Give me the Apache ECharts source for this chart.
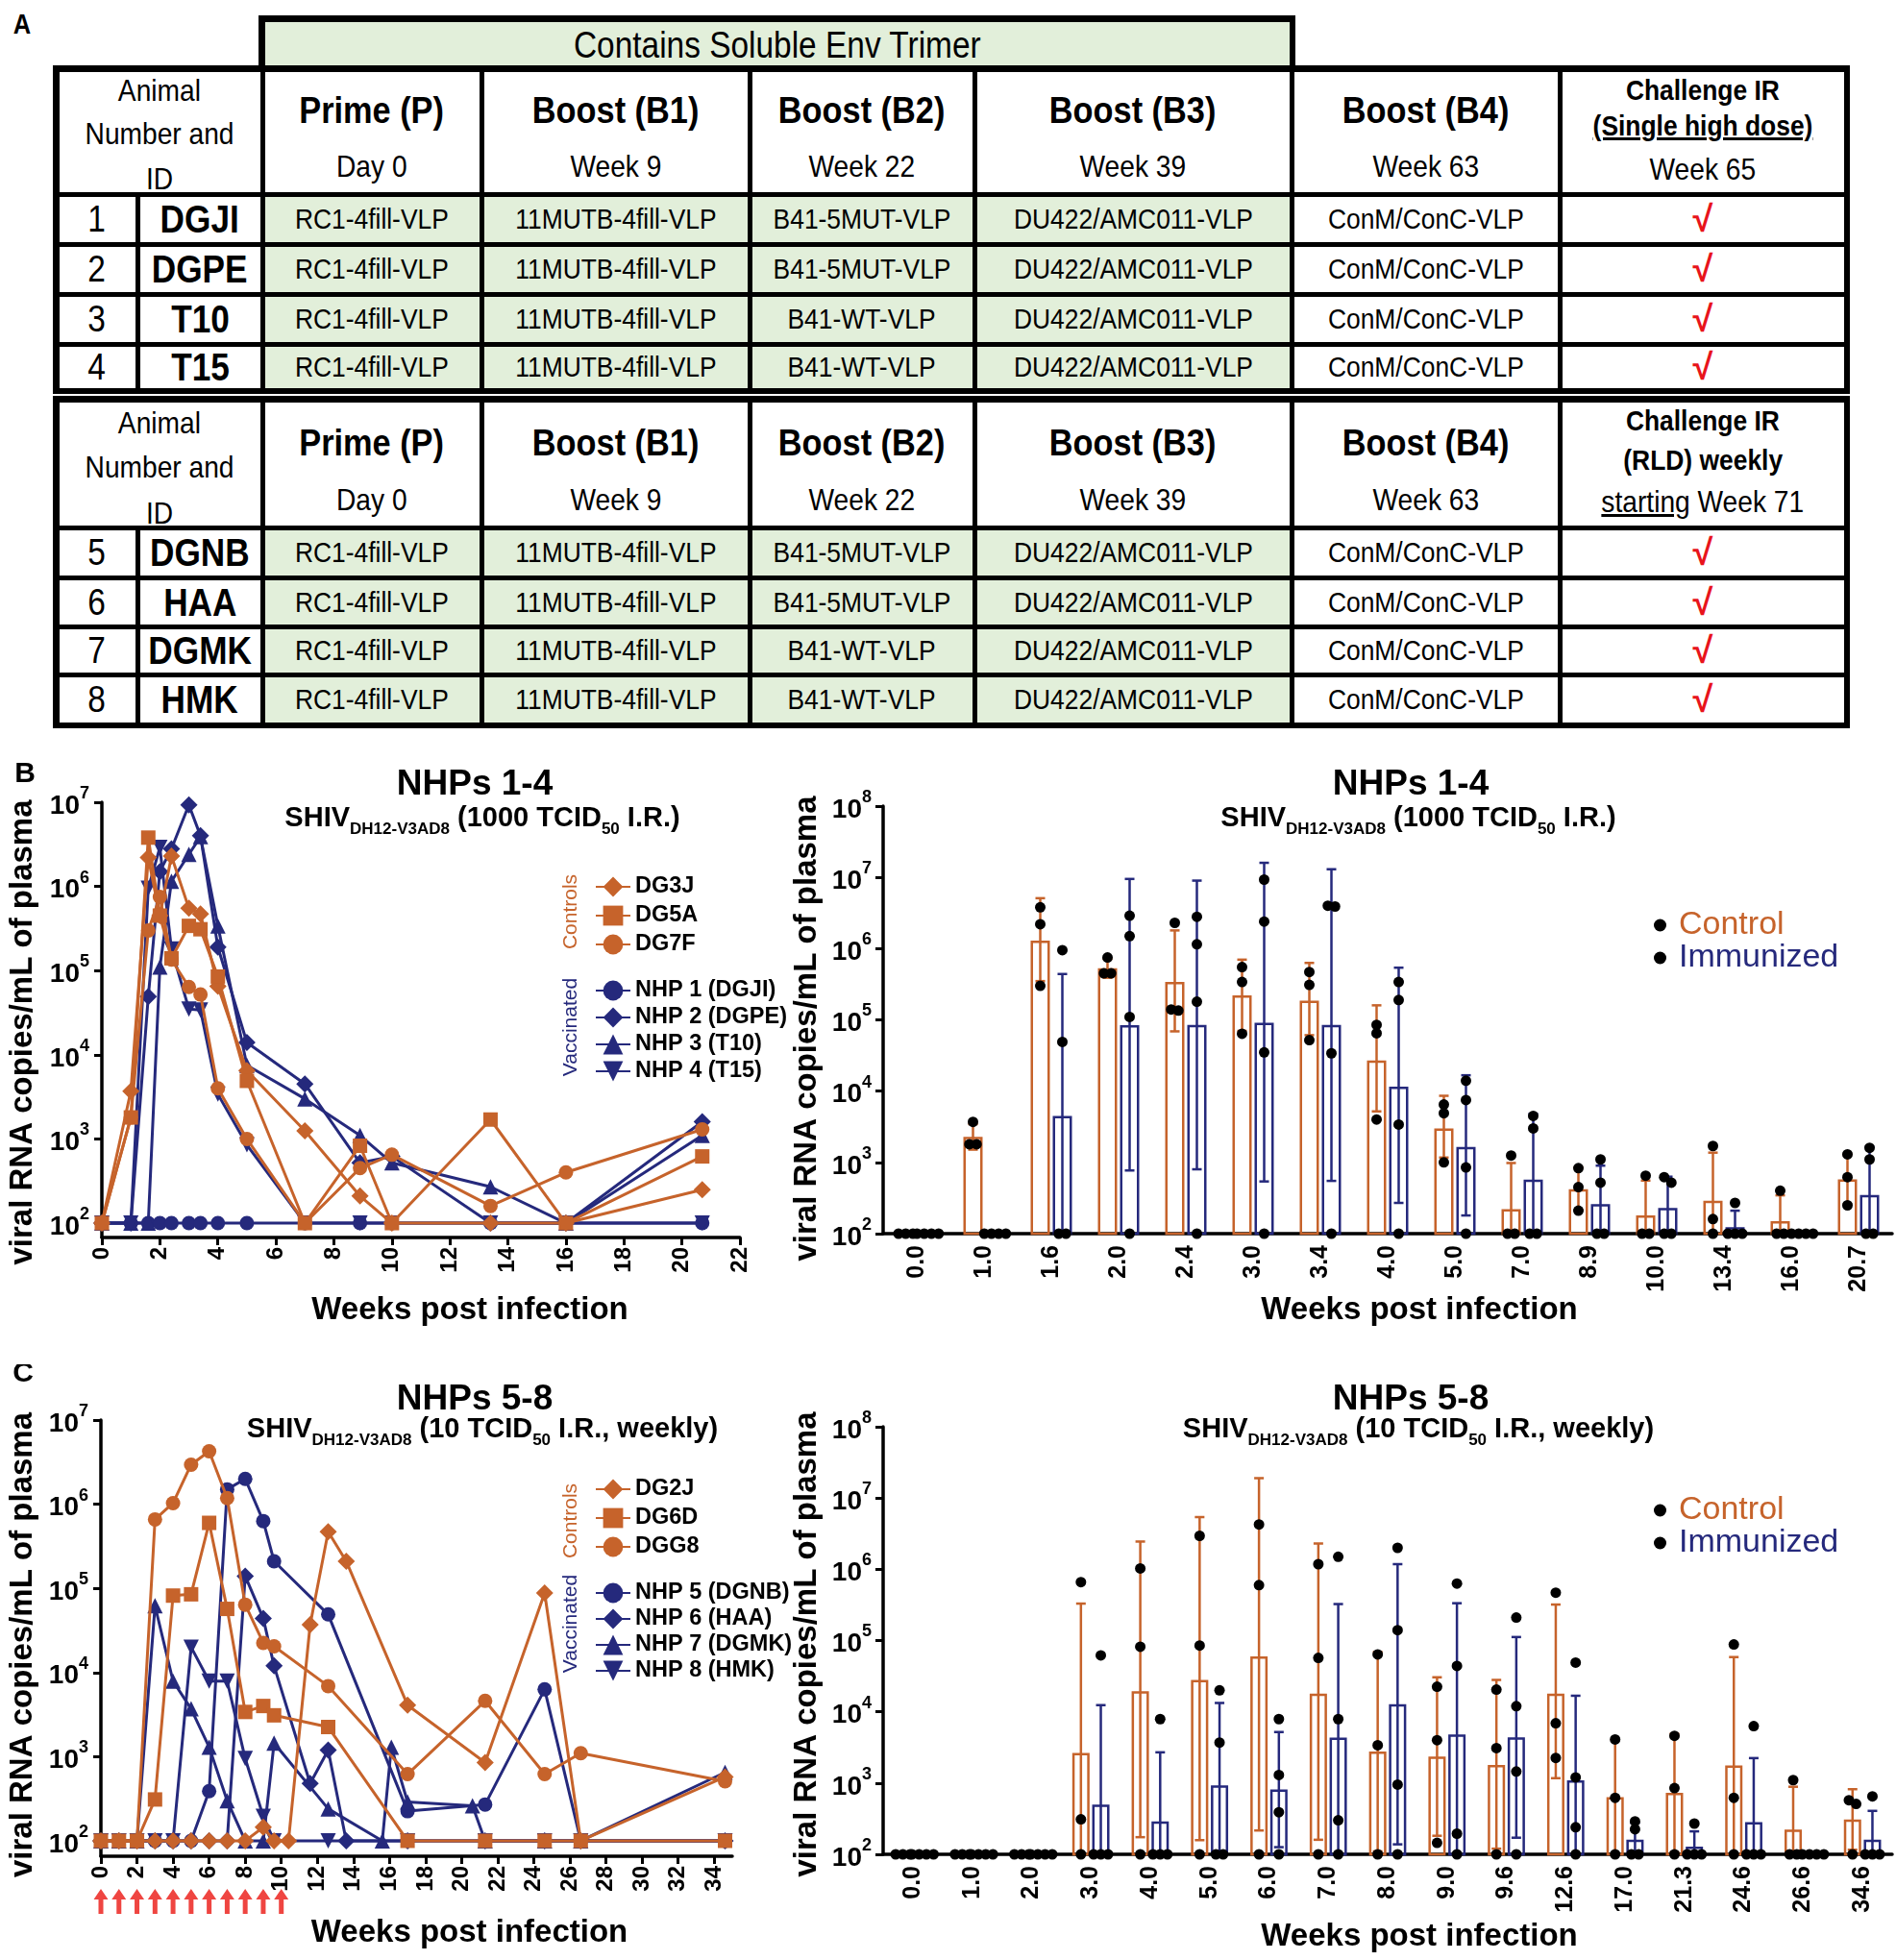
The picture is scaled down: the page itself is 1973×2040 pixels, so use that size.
<!DOCTYPE html>
<html>
<head>
<meta charset="utf-8">
<script src="https://cdn.jsdelivr.net/npm/echarts@6.0.0/dist/echarts.min.js"></script>
<style>
html,body{margin:0;padding:0;background:#fff;}
body{width:1973px;height:2040px;position:relative;overflow:hidden;}
.blk{position:absolute;background:#000;}
.cell{position:absolute;overflow:hidden;display:flex;align-items:center;justify-content:center;color:#000;line-height:1;white-space:nowrap;}
.t{display:inline-block;transform:scaleX(0.88);transform-origin:50% 50%;font-family:'Liberation Sans',Arial,sans-serif;line-height:1;white-space:nowrap;}
.hl{position:absolute;left:0;right:0;text-align:center;transform:translateY(-50%);line-height:1;white-space:nowrap;}
.ch{position:absolute;}
#lblA{position:absolute;left:12px;top:8px;font-weight:bold;font-size:30px;font-family:'Liberation Sans',sans-serif;transform:scaleX(0.85);}
</style>
</head>
<body>
<div id="lblA">A</div>
<div id="bR" class="ch" style="left:820px;top:780px;width:1153px;height:620px"></div>
<div id="cR" class="ch" style="left:820px;top:1420px;width:1153px;height:620px"></div>
<div id="bL" class="ch" style="left:0;top:780px;width:860px;height:620px"></div>
<div id="cL" class="ch" style="left:0;top:1420px;width:860px;height:620px"></div>
<script>
// ================= DATA =================
// ---- Panel A (table) ----
const trimerLabel = 'Contains Soluble Env Trimer';
const animalHead = ['Animal', 'Number and', 'ID'];
const headTitles = ['Prime (P)', 'Boost (B1)', 'Boost (B2)', 'Boost (B3)', 'Boost (B4)'];
const headTimes = ['Day 0', 'Week 9', 'Week 22', 'Week 39', 'Week 63'];
const challengeHead1 = ['Challenge IR', '(Single high dose)', 'Week 65'];
const challengeHead2 = ['Challenge IR', '(RLD) weekly', 'starting', 'Week 71'];
const animalNum = [1, 2, 3, 4, 5, 6, 7, 8];
const animalId = ['DGJI', 'DGPE', 'T10', 'T15', 'DGNB', 'HAA', 'DGMK', 'HMK'];
const primeVLP = ['RC1-4fill-VLP', 'RC1-4fill-VLP', 'RC1-4fill-VLP', 'RC1-4fill-VLP', 'RC1-4fill-VLP', 'RC1-4fill-VLP', 'RC1-4fill-VLP', 'RC1-4fill-VLP'];
const boost1VLP = ['11MUTB-4fill-VLP', '11MUTB-4fill-VLP', '11MUTB-4fill-VLP', '11MUTB-4fill-VLP', '11MUTB-4fill-VLP', '11MUTB-4fill-VLP', '11MUTB-4fill-VLP', '11MUTB-4fill-VLP'];
const boost2VLP = ['B41-5MUT-VLP', 'B41-5MUT-VLP', 'B41-WT-VLP', 'B41-WT-VLP', 'B41-5MUT-VLP', 'B41-5MUT-VLP', 'B41-WT-VLP', 'B41-WT-VLP'];
const boost3VLP = ['DU422/AMC011-VLP', 'DU422/AMC011-VLP', 'DU422/AMC011-VLP', 'DU422/AMC011-VLP', 'DU422/AMC011-VLP', 'DU422/AMC011-VLP', 'DU422/AMC011-VLP', 'DU422/AMC011-VLP'];
const boost4VLP = ['ConM/ConC-VLP', 'ConM/ConC-VLP', 'ConM/ConC-VLP', 'ConM/ConC-VLP', 'ConM/ConC-VLP', 'ConM/ConC-VLP', 'ConM/ConC-VLP', 'ConM/ConC-VLP'];
const challenged = [true, true, true, true, true, true, true, true];

// ---- Panel B (NHPs 1-4), weeks post infection ----
const weeksB = [0, 1, 1.6, 2, 2.4, 3, 3.4, 4, 5, 7, 8.9, 10, 13.4, 16, 20.7];
const DG3J = [100, 3700, 2200000, 450000, 2300000, 550000, 470000, 65000, 6500, 1250, 210, 100, 100, 100, 250];
const DG5A = [100, 1800, 3800000, 450000, 140000, 340000, 310000, 85000, 4900, 100, 830, 100, 1700, 100, 620];
const DG7F = [100, 1800, 300000, 750000, 135000, 64000, 52000, 4000, 1000, 100, 450, 650, 160, 400, 1300];
const NHP1 = [100, 100, 100, 100, 100, 100, 100, 100, 100, 100, 100, 100, 100, 100, 100];
const NHP2 = [100, 100, 49000, 1500000, 2800000, 9300000, 4000000, 190000, 14000, 4500, 520, 620, 100, 100, 1600];
const NHP3 = [100, 100, 100, 110000, 1150000, 2400000, 3900000, 340000, 7500, 3000, 1100, 520, 270, 100, 1100];
const NHP4 = [100, 100, 950000, 2900000, 180000, 35000, 34000, 3400, 850, 100, 100, 100, 100, 100, 100];
const catsB = ['0.0', '1.0', '1.6', '2.0', '2.4', '3.0', '3.4', '4.0', '5.0', '7.0', '8.9', '10.0', '13.4', '16.0', '20.7'];
const ctrlMeanB = [100, 2290, 1300000, 530000, 340000, 220000, 186000, 27000, 3000, 220, 420, 180, 290, 150, 580];
const ctrlHiB = [100, 3450, 5100000, 720000, 1800000, 700000, 630000, 160000, 8600, 980, 850, 555, 1370, 345, 1300];
const ctrlLoB = [null, 1510, 350000, 390000, 69000, 70000, 61000, 5200, 1170, null, 215, null, null, null, 256];
const immMeanB = [100, 100, 4500, 84000, 85000, 91000, 85000, 11600, 1650, 575, 260, 230, 123, 100, 350];
const immHiB = [100, 100, 440000, 9500000, 9000000, 16000000, 13000000, 540000, 16700, 4800, 900, 630, 210, 100, 1650];
const immLoB = [null, null, null, 770, 800, 540, 550, 270, 180, null, null, null, null, null, null];

// ---- Panel C (NHPs 5-8), [week, copies/mL] ----
const DG2J = [[0,100],[1,100],[2,100],[3,100],[4,100],[5,100],[6,100],[7,100],[8,100],[9,145],[9.6,100],[10.4,100],[11.6,37000],[12.6,470000],[13.6,210000],[17,4100],[21.3,850],[24.6,88000],[26.6,100],[34.6,575]];
const DG6D = [[0,100],[1,100],[2,100],[3,310],[4,82000],[5,85000],[6,600000],[7,57000],[8,3400],[9,4000],[9.6,3100],[12.6,2250],[17,100],[21.3,100],[24.6,100],[26.6,100],[34.6,100]];
const DGG8 = [[0,100],[1,100],[2,100],[3,660000],[4,1030000],[5,2950000],[6,4250000],[7,1180000],[8,64000],[9,22500],[9.6,20500],[12.6,6900],[17,620],[21.3,4600],[24.6,620],[26.6,1100],[34.6,510]];
const NHP5 = [[0,100],[1,100],[2,100],[3,100],[4,100],[5,100],[6,390],[7,1500000],[8,2000000],[9,630000],[9.6,210000],[12.6,49000],[17,225],[21.3,270],[24.6,6300],[26.6,100],[34.6,100]];
const NHP6 = [[0,100],[1,100],[2,100],[3,100],[4,100],[5,100],[6,100],[7,100],[8,140000],[9,44000],[9.6,12000],[11.6,480],[12.6,1200],[13.6,100],[17,100],[21.3,100],[24.6,100],[26.6,100],[34.6,100]];
const NHP7 = [[0,100],[1,100],[2,100],[3,62000],[4,7900],[5,3700],[6,1300],[7,300],[8,100],[9,100],[9.6,1450],[12.6,240],[15.6,100],[16.1,1300],[17,290],[20.6,260],[21.3,100],[24.6,100],[26.6,100],[34.6,650]];
const NHP8 = [[0,100],[1,100],[2,100],[3,100],[4,100],[5,20000],[6,7900],[7,7900],[8,950],[9,195],[9.6,100],[12.6,100],[17,100],[21.3,100],[24.6,100],[26.6,100],[34.6,100]];
const challengeWeeks = [0, 1, 2, 3, 4, 5, 6, 7, 8, 9, 10];
const catsC = ['0.0', '1.0', '2.0', '3.0', '4.0', '5.0', '6.0', '7.0', '8.0', '9.0', '9.6', '12.6', '17.0', '21.3', '24.6', '26.6', '34.6'];
const weeksC = [0, 1, 2, 3, 4, 5, 6, 7, 8, 9, 9.6, 12.6, 17, 21.3, 24.6, 26.6, 34.6];
const ctrlMeanC = [100, 100, 100, 2650, 19500, 28000, 60000, 18000, 2770, 2350, 1800, 18000, 634, 730, 1760, 222, 308];
const ctrlHiC = [100, 100, 100, 330000, 2450000, 5400000, 19000000, 2300000, 69000, 30500, 28000, 320000, 4060, 4900, 58600, 887, 820];
const ctrlLoC = [null, null, null, null, 174, 158, 216, 160, 110, 182, 120, 1170, null, 107, null, null, 116];
const immMeanC = [100, 100, 100, 499, 290, 927, 811, 4340, 12800, 4820, 4370, 1090, 160, 128, 282, 100, 160];
const immHiC = [100, 100, 100, 12400, 2700, 13300, 5200, 325000, 1180000, 334000, 112000, 16800, 277, 210, 2240, 100, 407];
const immLoC = [null, null, null, null, null, null, 126, null, 138, null, 171, null, null, null, null, null, null];

// ---- tick labels ----
const yTicksLine = [1e2, 1e3, 1e4, 1e5, 1e6, 1e7];
const yTicksBar = [1e2, 1e3, 1e4, 1e5, 1e6, 1e7, 1e8];
const xTicksB = [0, 2, 4, 6, 8, 10, 12, 14, 16, 18, 20, 22];
const xTicksC = [0, 2, 4, 6, 8, 10, 12, 14, 16, 18, 20, 22, 24, 26, 28, 30, 32, 34];

// ================= STYLE =================
const ORANGE = '#C6632B';
const BLUE = '#25297C';
const GREEN = '#E2EFDA';
const FONT = "'Liberation Sans', Arial, Helvetica, sans-serif";

// ================= TABLE =================
function box(x, y, w, h, bg, html, cls) {
  const d = document.createElement('div');
  d.className = cls || 'cell';
  d.style.left = x + 'px'; d.style.top = y + 'px';
  d.style.width = w + 'px'; d.style.height = h + 'px';
  d.style.background = bg;
  if (html) d.innerHTML = html;
  document.body.appendChild(d);
  return d;
}
const G = 2.5;
function cell(x0, x1, y0, y1, bg, html) { return box(x0 + G, y0 + G, x1 - x0 - 2 * G, y1 - y0 - 2 * G, bg, html); }
function tx(html, css) { return '<span class="t" style="' + css + '">' + html + '</span>'; }
function hl(off, html, css) { return '<div class="hl" style="top:' + (off - G) + 'px">' + tx(html, css) + '</div>'; }
const COLS = [59, 143, 273, 501, 780, 1014, 1344, 1623, 1921];
const TABLES = [
  {top: 72, head: 202, rows: [254, 306, 358, 406], animals: [0, 1, 2, 3], v: 1},
  {top: 416, head: 549, rows: [601, 652, 702, 754], animals: [4, 5, 6, 7], v: 2}
];
box(COLS[2] - 4, 16, COLS[6] - COLS[2] + 8, 60, '#000', '', 'blk');
cell(COLS[2], COLS[6], 20, 74, GREEN, tx(trimerLabel, 'font-size:38px'));
const vlpCols = [primeVLP, boost1VLP, boost2VLP, boost3VLP, boost4VLP];
TABLES.forEach(T => {
  const bottom = T.rows[T.rows.length - 1];
  box(COLS[0] - 4, T.top - 4, COLS[8] - COLS[0] + 8, bottom - T.top + 8, '#000', '', 'blk');
  const aOff = T.v === 1 ? [22, 67, 114] : [24, 70, 118];
  const tOff = T.v === 1 ? [42, 101] : [44, 104];
  const cOff = T.v === 1 ? [22, 59, 104] : [22, 63, 106];
  cell(COLS[0], COLS[2], T.top, T.head, '#fff',
    hl(aOff[0], animalHead[0], 'font-size:32px') + hl(aOff[1], animalHead[1], 'font-size:32px') + hl(aOff[2], animalHead[2], 'font-size:32px'));
  for (let c = 0; c < 5; c++) {
    cell(COLS[c + 2], COLS[c + 3], T.top, T.head, '#fff',
      hl(tOff[0], headTitles[c], 'font-size:39px;font-weight:bold') + hl(tOff[1], headTimes[c], 'font-size:32px'));
  }
  let chHtml;
  if (T.v === 1) {
    chHtml = hl(cOff[0], challengeHead1[0], 'font-size:30px;font-weight:bold') +
             hl(cOff[1], '<u>' + challengeHead1[1] + '</u>', 'font-size:30px;font-weight:bold') +
             hl(cOff[2], challengeHead1[2], 'font-size:32px');
  } else {
    chHtml = hl(cOff[0], challengeHead2[0], 'font-size:30px;font-weight:bold') +
             hl(cOff[1], challengeHead2[1], 'font-size:30px;font-weight:bold') +
             hl(cOff[2], '<u>' + challengeHead2[2] + '</u> ' + challengeHead2[3], 'font-size:32px');
  }
  cell(COLS[7], COLS[8], T.top, T.head, '#fff', chHtml);
  T.animals.forEach((a, r) => {
    const y0 = r === 0 ? T.head : T.rows[r - 1];
    const y1 = T.rows[r];
    cell(COLS[0], COLS[1], y0, y1, '#fff', tx(animalNum[a], 'font-size:38px'));
    cell(COLS[1], COLS[2], y0, y1, '#fff', tx(animalId[a], 'font-size:40px;font-weight:bold'));
    for (let c = 0; c < 5; c++) {
      cell(COLS[c + 2], COLS[c + 3], y0, y1, c < 4 ? GREEN : '#fff', tx(vlpCols[c][a], 'font-size:30px'));
    }
    cell(COLS[7], COLS[8], y0, y1, '#fff', challenged[a] ? '<span style="font-size:38px;font-weight:bold;color:#E8141B;font-family:\'Liberation Sans\',sans-serif">\u221A</span>' : '');
  });
});

// ================= CHARTS =================
const pow10 = v => '{b|10}{p|' + Math.round(Math.log10(v)) + '}';
const POW_RICH = {
  b: {fontSize: 28, fontWeight: 'bold', fontFamily: FONT, color: '#000', lineHeight: 36, verticalAlign: 'bottom'},
  p: {fontSize: 18, fontWeight: 'bold', fontFamily: FONT, color: '#000', lineHeight: 18, verticalAlign: 'top'}
};
const NAME_STYLE = {fontSize: 33, fontWeight: 'bold', color: '#000', fontFamily: FONT};
const SUB_RICH = {
  m: {fontSize: 29, fontWeight: 'bold', fontFamily: FONT, fill: '#000', lineHeight: 29, verticalAlign: 'bottom', padding: [0, 0, 5, 0]},
  s: {fontSize: 17, fontWeight: 'bold', fontFamily: FONT, fill: '#000', lineHeight: 17, verticalAlign: 'bottom'}
};
function titleGraphics(P) {
  return [
    {type: 'text', x: P.titleX, y: P.titleY, silent: true, style: {text: P.title, fontSize: 37, fontWeight: 'bold', fontFamily: FONT, fill: '#000', align: 'center', verticalAlign: 'middle'}},
    {type: 'text', x: P.subX, y: P.subY, silent: true, style: {text: P.sub, rich: SUB_RICH, align: 'center', verticalAlign: 'middle'}}
  ];
}

const CTRL_STYLE = [{symbol: 'diamond', size: 18, rot: 0}, {symbol: 'rect', size: 15, rot: 0}, {symbol: 'circle', size: 15, rot: 0}];
const VACC_STYLE = [{symbol: 'circle', size: 15, rot: 0}, {symbol: 'diamond', size: 18, rot: 0}, {symbol: 'triangle', size: 16, rot: 0}, {symbol: 'triangle', size: 16, rot: 180}];

function lineChart(elId, P) {
  const chart = echarts.init(document.getElementById(elId));
  const mk = (s, sty, color, z) => ({
    type: 'line', name: s.name, data: s.data, symbol: sty.symbol, symbolSize: sty.size, symbolRotate: sty.rot,
    lineStyle: {color: color, width: 3}, itemStyle: {color: color}, z: z, clip: false, silent: true,
    emphasis: {disabled: true}
  });
  const series = [].concat(
    P.vacc.map((s, k) => mk(s, VACC_STYLE[k], BLUE, 2)),
    P.ctrl.map((s, k) => mk(s, CTRL_STYLE[k], ORANGE, 3))
  );
  if (P.arrows) {
    series.push({
      type: 'custom', name: 'challenge', silent: true, clip: false, z: 5,
      data: P.arrows.map(w => [w, 1000]),
      renderItem: (params, api) => {
        const p = api.coord([api.value(0), P.yMin]);
        const x = p[0], top = p[1] + 34, bot = p[1] + 60, hw = 7.5, hh = 11, sw = 2.5;
        return {type: 'polygon', shape: {points: [[x, top], [x + hw, top + hh], [x + sw, top + hh], [x + sw, bot], [x - sw, bot], [x - sw, top + hh], [x - hw, top + hh]]}, style: {fill: '#EF4541'}};
      }
    });
  }
  const legBase = {orient: 'vertical', left: P.legLeft, itemWidth: 36, itemHeight: 26, selectedMode: false,
    textStyle: {fontSize: 23.5, fontWeight: 'bold', color: '#000', fontFamily: FONT, lineHeight: 26}};
  const graphic = titleGraphics(P).concat([
    {type: 'text', x: P.letterX, y: P.letterY, silent: true, style: {text: P.letter, fontSize: 30, fontWeight: 'bold', fontFamily: FONT, fill: '#000', align: 'center', verticalAlign: 'middle'}},
    {type: 'text', x: P.grpX, y: P.ctrlLblY, rotation: Math.PI / 2, silent: true, style: {text: 'Controls', fontSize: 21, fontFamily: FONT, fill: ORANGE, align: 'center', verticalAlign: 'middle'}},
    {type: 'text', x: P.grpX, y: P.vaccLblY, rotation: Math.PI / 2, silent: true, style: {text: 'Vaccinated', fontSize: 21, fontFamily: FONT, fill: BLUE, align: 'center', verticalAlign: 'middle'}}
  ]);
  chart.setOption({
    animation: false,
    textStyle: {fontFamily: FONT},
    grid: {left: P.grid[0], top: P.grid[1], width: P.grid[2], height: P.grid[3], containLabel: false, outerBoundsMode: 'none'},
    xAxis: {
      type: 'value', min: 0, max: P.xMax,
      axisLine: {show: true, onZero: false, lineStyle: {color: '#000', width: 3.5}},
      axisTick: {show: true, length: 8, lineStyle: {color: '#000', width: 3}, customValues: P.xTicks},
      axisLabel: {customValues: P.xTicks, rotate: 90, margin: 10, fontSize: 24, fontWeight: 'bold', color: '#000', fontFamily: FONT},
      splitLine: {show: false},
      name: 'Weeks post infection', nameLocation: 'middle', nameGap: P.xNameGap,
      nameTextStyle: Object.assign({}, NAME_STYLE, {padding: [0, 0, 0, P.xNameShift]}), nameMoveOverlap: false
    },
    yAxis: {
      type: 'log', logBase: 10, min: P.yMin, max: 1e7,
      axisLine: {show: true, onZero: false, lineStyle: {color: '#000', width: 3.5}},
      axisTick: {show: true, length: 8, lineStyle: {color: '#000', width: 3}, customValues: yTicksLine},
      minorTick: {show: false},
      axisLabel: {customValues: yTicksLine, formatter: pow10, rich: POW_RICH, margin: 13},
      splitLine: {show: false},
      name: 'viral RNA copies/mL of plasma', nameLocation: 'middle', nameGap: P.yNameGap,
      nameTextStyle: Object.assign({}, NAME_STYLE, {padding: [0, P.yNameShift, 0, 0]}), nameMoveOverlap: false
    },
    legend: [
      Object.assign({}, legBase, {data: P.ctrl.map(s => s.name), top: P.legCtrlTop, itemGap: P.ctrlGap}),
      Object.assign({}, legBase, {data: P.vacc.map(s => s.name), top: P.legVaccTop, itemGap: P.vaccGap})
    ],
    graphic: graphic,
    series: series
  });
}

const CAP = 5, DOT_R = 5.5, DOT_SPREAD = 7.5;
function errSeries(name, offset, color, mean, hi, lo) {
  return {
    type: 'custom', name: name, z: 3, clip: false, silent: true,
    data: mean.map((m, i) => [i, m]),
    renderItem: (params, api) => {
      const i = params.dataIndex;
      if (!(hi[i] > mean[i] * 1.02)) return {type: 'group', children: []};
      const x = api.coord([i, mean[i]])[0] + offset;
      const yH = api.coord([i, hi[i]])[1];
      const yL = api.coord([i, lo[i] != null ? lo[i] : 100])[1];
      const st = {stroke: color, lineWidth: 2.5};
      const ch = [
        {type: 'line', shape: {x1: x, y1: yL, x2: x, y2: yH}, style: st},
        {type: 'line', shape: {x1: x - CAP, y1: yH, x2: x + CAP, y2: yH}, style: st}
      ];
      if (lo[i] != null) ch.push({type: 'line', shape: {x1: x - CAP, y1: yL, x2: x + CAP, y2: yL}, style: st});
      return {type: 'group', children: ch};
    }
  };
}
function dotSeries(name, offset, groups) {
  return {
    type: 'custom', name: name, z: 4, clip: false, silent: true,
    data: groups.map((g, i) => [i, 1000]),
    renderItem: (params, api) => {
      const i = params.dataIndex;
      const cx = api.coord([i, 1000])[0] + offset;
      const ys = groups[i].map(v => api.coord([i, v])[1]).sort((a, b) => a - b);
      const children = [];
      let k = 0;
      while (k < ys.length) {
        let j = k;
        while (j + 1 < ys.length && ys[j + 1] - ys[k] < 8) j++;
        const n = j - k + 1;
        for (let t = 0; t < n; t++) {
          children.push({type: 'circle', shape: {cx: cx + (t - (n - 1) / 2) * DOT_SPREAD, cy: ys[k + t], r: DOT_R}, style: {fill: '#000'}});
        }
        k = j + 1;
      }
      return {type: 'group', children: children};
    }
  };
}
function barChart(elId, P) {
  const chart = echarts.init(document.getElementById(elId));
  const bw = P.barWidth, gap = 0.15;
  const off = (bw + bw * gap) / 2;
  chart.setOption({
    animation: false,
    textStyle: {fontFamily: FONT},
    grid: {left: P.grid[0], top: P.grid[1], width: P.grid[2], height: P.grid[3], containLabel: false, outerBoundsMode: 'none'},
    xAxis: {
      type: 'category', data: P.cats,
      axisLine: {show: true, onZero: false, lineStyle: {color: '#000', width: 3.5}},
      axisTick: {show: false},
      axisLabel: {rotate: 90, interval: 0, margin: 12, fontSize: 25, fontWeight: 'bold', color: '#000', fontFamily: FONT},
      name: 'Weeks post infection', nameLocation: 'middle', nameGap: P.xNameGap,
      nameTextStyle: Object.assign({}, NAME_STYLE, {padding: [0, 0, 0, P.xNameShift]}), nameMoveOverlap: false
    },
    yAxis: {
      type: 'log', logBase: 10, min: 100, max: 1e8,
      axisLine: {show: true, onZero: false, lineStyle: {color: '#000', width: 3.5}},
      axisTick: {show: true, length: 8, lineStyle: {color: '#000', width: 3}, customValues: yTicksBar},
      minorTick: {show: false},
      axisLabel: {customValues: yTicksBar, formatter: pow10, rich: POW_RICH, margin: 12},
      splitLine: {show: false},
      name: 'viral RNA copies/mL of plasma', nameLocation: 'middle', nameGap: P.yNameGap,
      nameTextStyle: Object.assign({}, NAME_STYLE, {padding: [0, P.yNameShift, 0, 0]}), nameMoveOverlap: false
    },
    legend: {
      data: [
        {name: 'Control', icon: 'circle', itemStyle: {color: '#000', borderWidth: 0}, textStyle: {color: ORANGE}},
        {name: 'Immunized', icon: 'circle', itemStyle: {color: '#000', borderWidth: 0}, textStyle: {color: BLUE}}
      ],
      orient: 'vertical', left: P.legLeft, top: P.legTop, itemWidth: 13, itemHeight: 13, itemGap: 0, selectedMode: false,
      textStyle: {fontSize: 34, fontFamily: FONT, lineHeight: 34, padding: [0, 0, 0, 8]}
    },
    graphic: titleGraphics(P),
    series: [
      {type: 'bar', name: 'Control', data: P.ctrlMean, barWidth: bw, barGap: (gap * 100) + '%', clip: true, silent: true,
        itemStyle: {color: 'rgba(255,255,255,0)', borderColor: ORANGE, borderWidth: 2.5}, z: 2},
      {type: 'bar', name: 'Immunized', data: P.immMean, barWidth: bw, barGap: (gap * 100) + '%', clip: true, silent: true,
        itemStyle: {color: 'rgba(255,255,255,0)', borderColor: BLUE, borderWidth: 2.5}, z: 2},
      errSeries('Control SD', -off, ORANGE, P.ctrlMean, P.ctrlHi, P.ctrlLo),
      errSeries('Immunized SD', off, BLUE, P.immMean, P.immHi, P.immLo),
      dotSeries('Control pts', -off, P.ctrlDots),
      dotSeries('Immunized pts', off, P.immDots)
    ]
  });
}

// ---- Panel B ----
const pairB = arr => weeksB.map((w, i) => [w, arr[i]]);
lineChart('bL', {
  ctrl: [{name: 'DG3J', data: pairB(DG3J)}, {name: 'DG5A', data: pairB(DG5A)}, {name: 'DG7F', data: pairB(DG7F)}],
  vacc: [{name: 'NHP 1 (DGJI)', data: pairB(NHP1)}, {name: 'NHP 2 (DGPE)', data: pairB(NHP2)}, {name: 'NHP 3 (T10)', data: pairB(NHP3)}, {name: 'NHP 4 (T15)', data: pairB(NHP4)}],
  grid: [106, 55, 664, 453], xMax: 22, xTicks: xTicksB, yMin: 67.5, xNameGap: 59, yNameGap: 66, xNameShift: 102, yNameShift: 26,
  title: 'NHPs 1-4', titleX: 494, titleY: 37, sub: '{m|SHIV}{s|DH12-V3AD8}{m| (1000 TCID}{s|50}{m| I.R.)}', subX: 502, subY: 77,
  letter: 'B', letterX: 26, letterY: 26,
  legLeft: 614, legCtrlTop: 125, ctrlGap: 4, legVaccTop: 233, vaccGap: 2,
  grpX: 594, ctrlLblY: 169, vaccLblY: 289
});
barChart('bR', {
  cats: catsB, ctrlMean: ctrlMeanB, ctrlHi: ctrlHiB, ctrlLo: ctrlLoB, immMean: immMeanB, immHi: immHiB, immLo: immLoB,
  ctrlDots: catsB.map((c, i) => [DG3J[i], DG5A[i], DG7F[i]]),
  immDots: catsB.map((c, i) => [NHP1[i], NHP2[i], NHP3[i], NHP4[i]]),
  grid: [99, 59, 1050, 445], barWidth: 20, xNameGap: 63, yNameGap: 63, xNameShift: 66, yNameShift: 18,
  title: 'NHPs 1-4', titleX: 648, titleY: 37, sub: '{m|SHIV}{s|DH12-V3AD8}{m| (1000 TCID}{s|50}{m| I.R.)}', subX: 656, subY: 77,
  legLeft: 896, legTop: 161
});

// ---- Panel C ----
const lookup = (series, w) => { const p = series.find(q => q[0] === w); return p ? p[1] : null; };
const dotsAt = (list, w) => list.map(s => lookup(s, w)).filter(v => v != null);
lineChart('cL', {
  ctrl: [{name: 'DG2J', data: DG2J}, {name: 'DG6D', data: DG6D}, {name: 'DGG8', data: DGG8}],
  vacc: [{name: 'NHP 5 (DGNB)', data: NHP5}, {name: 'NHP 6 (HAA)', data: NHP6}, {name: 'NHP 7 (DGMK)', data: NHP7}, {name: 'NHP 8 (HMK)', data: NHP8}],
  grid: [105, 58, 657, 454], xMax: 35, xTicks: xTicksC, yMin: 65.6, xNameGap: 63, yNameGap: 65, xNameShift: 110, yNameShift: 14,
  title: 'NHPs 5-8', titleX: 494, titleY: 37, sub: '{m|SHIV}{s|DH12-V3AD8}{m| (10 TCID}{s|50}{m| I.R., weekly)}', subX: 502, subY: 73,
  letter: 'C', letterX: 24, letterY: 10,
  legLeft: 614, legCtrlTop: 112, ctrlGap: 4, legVaccTop: 220, vaccGap: 1,
  grpX: 594, ctrlLblY: 163, vaccLblY: 270,
  arrows: challengeWeeks
});
barChart('cR', {
  cats: catsC, ctrlMean: ctrlMeanC, ctrlHi: ctrlHiC, ctrlLo: ctrlLoC, immMean: immMeanC, immHi: immHiC, immLo: immLoC,
  ctrlDots: weeksC.map(w => dotsAt([DG2J, DG6D, DGG8], w)),
  immDots: weeksC.map(w => dotsAt([NHP5, NHP6, NHP7, NHP8], w)),
  grid: [99, 65, 1050, 445], barWidth: 18, xNameGap: 69, yNameGap: 63, xNameShift: 66, yNameShift: 8,
  title: 'NHPs 5-8', titleX: 648, titleY: 37, sub: '{m|SHIV}{s|DH12-V3AD8}{m| (10 TCID}{s|50}{m| I.R., weekly)}', subX: 656, subY: 73,
  legLeft: 896, legTop: 130
});
</script>
</body>
</html>
